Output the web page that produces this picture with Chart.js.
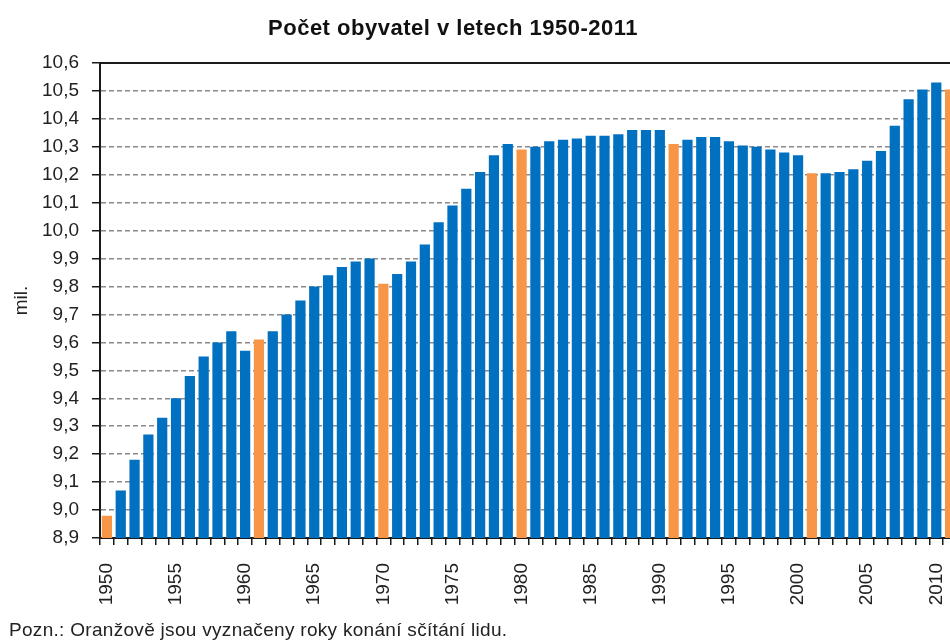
<!DOCTYPE html>
<html>
<head>
<meta charset="utf-8">
<script src="https://cdn.jsdelivr.net/npm/chart.js@4/dist/chart.umd.min.js"></script>
<style>
  html, body { margin: 0; padding: 0; background: #fff; width: 950px; height: 644px; overflow: hidden; }
  #wrap { position: relative; width: 950px; height: 644px; overflow: hidden; }
  #c { position: absolute; left: 0; top: 0; }
  #title { position: absolute; left: 0; top: 17px; width: 906px; text-align: center;
           font: bold 22px "Liberation Sans", Arial, sans-serif; line-height: 1; color: #111; letter-spacing: 0.5px; }
  #note { position: absolute; left: 9px; top: 620px; font: 19px "Liberation Sans", Arial, sans-serif;
          line-height: 1; color: #222; letter-spacing: 0.3px; white-space: nowrap; }
</style>
</head>
<body>
<div id="wrap">
  <canvas id="c" width="958" height="644"></canvas>
  <div id="title">Počet obyvatel v letech 1950-2011</div>
  <div id="note">Pozn.: Oranžově jsou vyznačeny roky konání sčítání lidu.</div>
</div>
<script>
// Categories (years)
const years = [
  1950, 1951, 1952, 1953, 1954, 1955, 1956, 1957, 1958, 1959,
  1960, 1961, 1962, 1963, 1964, 1965, 1966, 1967, 1968, 1969,
  1970, 1971, 1972, 1973, 1974, 1975, 1976, 1977, 1978, 1979,
  1980, 1981, 1982, 1983, 1984, 1985, 1986, 1987, 1988, 1989,
  1990, 1991, 1992, 1993, 1994, 1995, 1996, 1997, 1998, 1999,
  2000, 2001, 2002, 2003, 2004, 2005, 2006, 2007, 2008, 2009,
  2010, 2011
];

// Population in millions
const population = [
  8.98, 9.07, 9.18, 9.27, 9.33, 9.40, 9.48, 9.55, 9.60, 9.64,
  9.57, 9.61, 9.64, 9.70, 9.75, 9.80, 9.84, 9.87, 9.89, 9.90,
  9.81, 9.845, 9.89, 9.95, 10.03, 10.09, 10.15, 10.21, 10.27, 10.31,
  10.29, 10.30, 10.32, 10.325, 10.33, 10.34, 10.34, 10.345, 10.36, 10.36,
  10.36, 10.31, 10.325, 10.335, 10.335, 10.32, 10.305, 10.30, 10.29, 10.28,
  10.27, 10.205, 10.205, 10.21, 10.22, 10.25, 10.285, 10.375, 10.47, 10.505,
  10.53, 10.505
];

// Census years (highlighted in orange)
const censusYears = [1950, 1961, 1970, 1980, 1991, 2001, 2011];

// Axis settings
const yMin = 8.9;
const yMax = 10.6;
const yStep = 0.1;
const xLabelEvery = 5;

const BLUE = '#0070C0';
const ORANGE = '#F79646';
const barColors = years.map(y => censusYears.includes(y) ? ORANGE : BLUE);

const topBorder = {
  id: 'topBorder',
  afterDraw(chart) {
    const { ctx, chartArea } = chart;
    ctx.save();
    ctx.strokeStyle = '#1a1a1a';
    ctx.lineWidth = 2;
    ctx.beginPath();
    ctx.moveTo(chartArea.left - 1, chartArea.top);
    ctx.lineTo(chartArea.right + 5, chartArea.top);
    ctx.stroke();
    ctx.restore();
  }
};

const tickFont = { family: '"Liberation Sans", Arial, sans-serif', size: 19 };

new Chart(document.getElementById('c'), {
  type: 'bar',
  data: {
    labels: years.map(String),
    datasets: [{
      data: population,
      backgroundColor: barColors,
      borderWidth: 0,
      barPercentage: 0.74,
      categoryPercentage: 1.0
    }]
  },
  options: {
    responsive: false,
    animation: false,
    devicePixelRatio: 1,
    layout: { padding: { top: 63, left: 0, right: 1, bottom: 36 } },
    plugins: {
      legend: { display: false },
      tooltip: { enabled: false },
      title: { display: false }
    },
    scales: {
      x: {
        grid: {
          offset: true,
          drawOnChartArea: false,
          drawTicks: true,
          tickLength: 7,
          color: '#1a1a1a',
          lineWidth: 1.5
        },
        border: { display: true, color: '#1a1a1a', width: 2 },
        ticks: {
          autoSkip: false,
          maxRotation: 90,
          minRotation: 90,
          padding: 18,
          color: '#222',
          font: tickFont,
          callback: (v, i) => (years[i] % xLabelEvery === 0 ? String(years[i]) : '')
        },
        afterFit: s => { s.height = 70; s.paddingRight = 0; s.paddingLeft = 0; }
      },
      y: {
        min: yMin,
        max: yMax,
        ticks: {
          stepSize: yStep,
          padding: 13,
          color: '#222',
          font: tickFont,
          callback: v => v.toFixed(1).replace('.', ',')
        },
        grid: {
          color: ctx => (ctx.tick && Math.abs(ctx.tick.value - yMax) < 1e-6) ? 'rgba(0,0,0,0)' : '#8a8a8a',
          lineWidth: 1.5,
          tickLength: 8,
          tickColor: '#1a1a1a',
          tickWidth: 1.5,
          tickBorderDash: []
        },
        border: { display: true, color: '#1a1a1a', width: 2, dash: [5, 3] },
        title: {
          display: true,
          text: 'mil.',
          color: '#222',
          font: { family: '"Liberation Sans", Arial, sans-serif', size: 19 },
          padding: { top: 10, bottom: 0 }
        },
        afterFit: s => { s.width = 100; }
      }
    }
  },
  plugins: [topBorder]
});
</script>
</body>
</html>
